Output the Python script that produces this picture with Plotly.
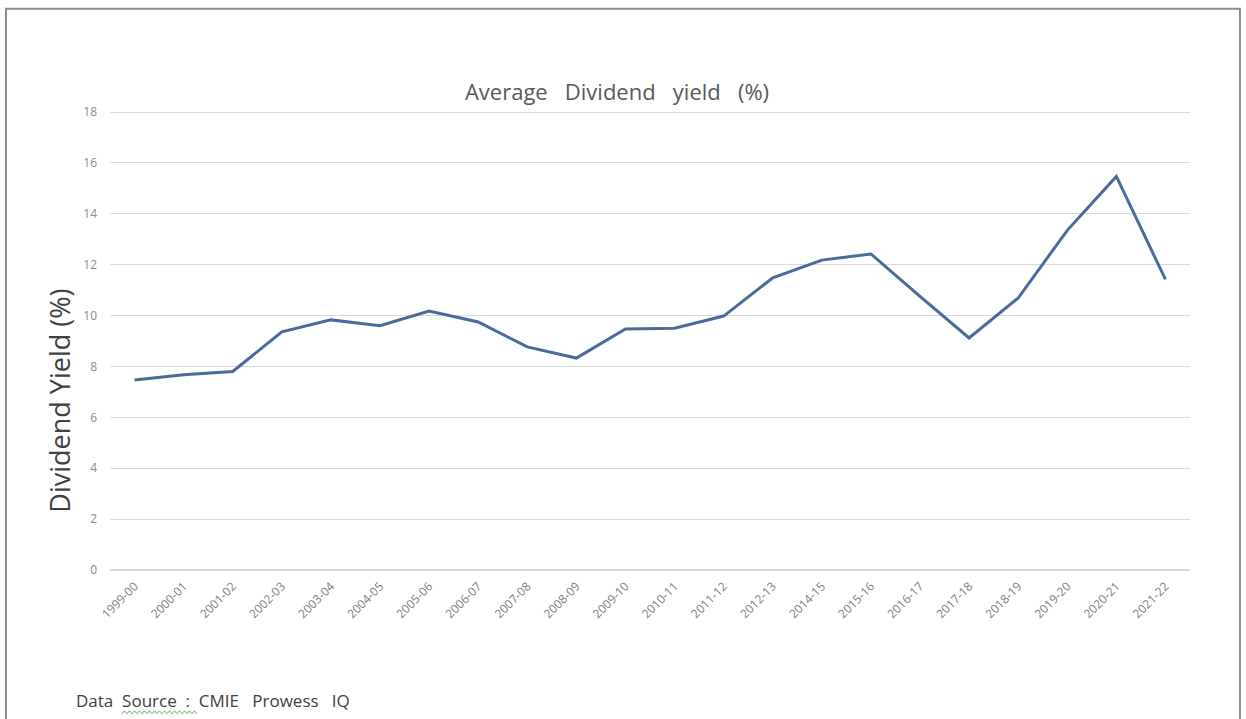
import plotly.graph_objects as go

years = ["1999-00", "2000-01", "2001-02", "2002-03", "2003-04", "2004-05", "2005-06",
         "2006-07", "2007-08", "2008-09", "2009-10", "2010-11", "2011-12", "2012-13",
         "2014-15", "2015-16", "2016-17", "2017-18", "2018-19", "2019-20", "2020-21", "2021-22"]
yield_pct = [7.47, 7.67, 7.8, 9.36, 9.83, 9.6, 10.18, 9.75, 8.77, 8.33, 9.47, 9.5, 9.98,
             11.48, 12.18, 12.42, 10.75, 9.12, 10.69, 13.35, 15.47, 11.42]
y_ticks = [0, 2, 4, 6, 8, 10, 12, 14, 16, 18]

fig = go.Figure()
fig.add_trace(go.Scatter(x=years, y=yield_pct, mode="lines",
                         line=dict(color="#4a6a9c", width=3), showlegend=False))

L, R, T, B = 110, 56, 112, 149
W, H = 1246, 719
pw, ph = W - L - R, H - T - B


def px(xp):
    return (xp - L) / pw


def py(yp):
    return (H - B - yp) / ph


fig.update_layout(
    width=W, height=H,
    margin=dict(l=L, r=R, t=T - 1, b=B),
    paper_bgcolor="white", plot_bgcolor="white",
    font=dict(family="Open Sans, Liberation Sans, sans-serif", color="#595959"),
    title=dict(text="Average   Dividend   yield   (%)", x=px(617), xref="paper",
               xanchor="center", y=1 - 92 / H, yanchor="middle",
               font=dict(size=22, color="#595959")),
    xaxis=dict(type="category", tickangle=-45, tickfont=dict(size=12, color="#808080"),
               showgrid=False, showline=False, ticks="", categoryorder="array",
               categoryarray=years, range=[-0.5, len(years) - 0.5],
               ticklabelstandoff=6),
    yaxis=dict(range=[0, 18.04], tickvals=y_ticks, tickfont=dict(size=12, color="#8c8c8c"),
               gridcolor="#d9d9d9", gridwidth=1, zeroline=True, zerolinecolor="#d9d9d9",
               showline=False, ticks="", ticklabelstandoff=12),
)

# y-axis title
fig.add_annotation(text="Dividend Yield (%)", xref="paper", yref="paper",
                   x=px(60), y=py(401), xanchor="center", yanchor="middle",
                   textangle=-90, showarrow=False,
                   font=dict(size=27, color="#404040"))

# outer border
fig.add_shape(type="rect", xref="paper", yref="paper",
              x0=px(6), x1=px(1240), y0=py(740), y1=py(10),
              line=dict(color="#8c8c8c", width=2), layer="below")

# source note
fig.add_annotation(text="Data  Source  :  CMIE   Prowess   IQ", xref="paper", yref="paper",
                   x=px(74), y=py(700), xanchor="left", yanchor="middle",
                   showarrow=False, font=dict(size=17, color="#404040"))

# spell-check squiggle under "Source"
x0s, x1s, ys = 122, 198, 712
pts = []
xx = x0s
k = 0
while xx <= x1s:
    pts.append((px(xx), py(ys + (1.5 if k % 2 == 0 else -1.5))))
    xx += 2.5
    k += 1
path = "M " + " L ".join(f"{a:.5f},{b:.5f}" for a, b in pts)
fig.add_shape(type="path", xref="paper", yref="paper", path=path,
              line=dict(color="#6aa56a", width=1))

fig.write_html("out.html")
